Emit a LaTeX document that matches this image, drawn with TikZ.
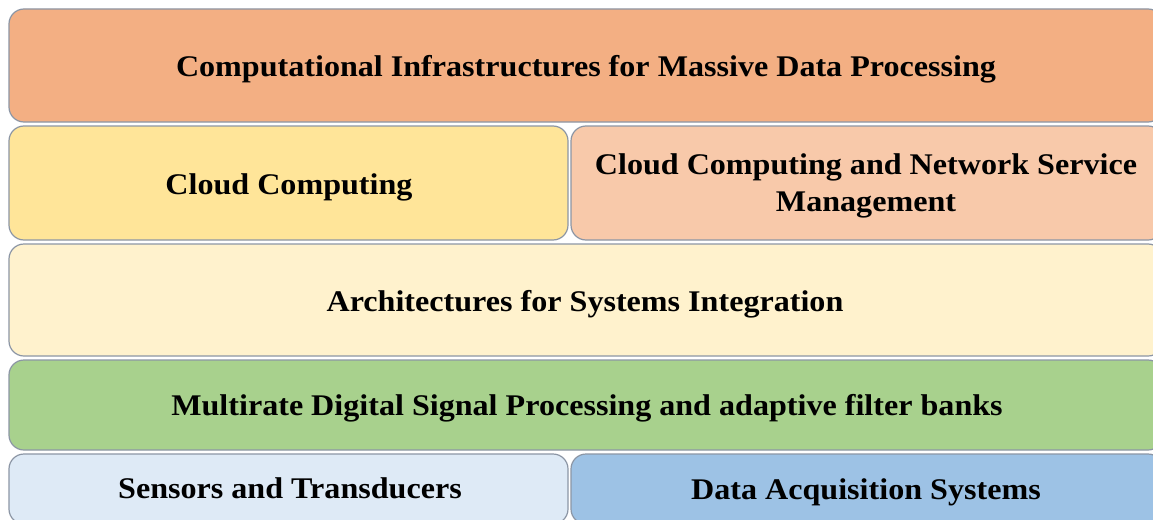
\documentclass[tikz,border=0pt]{standalone}
\usepackage{fontspec}
\setmainfont[FakeStretch=1.07]{Liberation Serif}
\definecolor{cTop}{HTML}{F3AF83}
\definecolor{cYel}{HTML}{FFE599}
\definecolor{cPeach}{HTML}{F8C9AA}
\definecolor{cCream}{HTML}{FFF2CD}
\definecolor{cGreen}{HTML}{A8D18D}
\definecolor{cLblue}{HTML}{DEEAF6}
\definecolor{cBlue}{HTML}{9DC2E5}
\definecolor{cEdge}{RGB}{140,150,165}
\tikzset{
  layer/.style={draw=cEdge, line width=1.2pt, rounded corners=15pt, inner sep=0pt},
  label/.style={inner sep=0pt, align=center, text=black,
    font=\fontsize{30}{37}\selectfont\bfseries},
}
\begin{document}
\begin{tikzpicture}[x=1pt,y=-1pt]
\useasboundingbox (0,0) rectangle (1153,519);
\clip (0,0) rectangle (1153,519);
\fill[white] (0,0) rectangle (1153,519);
\node[layer, fill=cTop, minimum width=1154pt, minimum height=113pt] (top) at (586,65.5) {};
\node[label] (toptext) at (586,69) {Computational Infrastructures for Massive Data Processing};
\node[layer, fill=cYel, minimum width=559pt, minimum height=114pt] (cloud) at (288.5,183) {};
\node[label] (cloudtext) at (289,187) {Cloud Computing};
\node[layer, fill=cPeach, minimum width=592pt, minimum height=114pt] (net) at (867,183) {};
\node[label] (nettext) at (866,186) {Cloud Computing and Network Service\\Management};
\node[layer, fill=cCream, minimum width=1154pt, minimum height=112pt] (arch) at (586,300) {};
\node[label] (archtext) at (585,304) {Architectures for Systems Integration};
\node[layer, fill=cGreen, minimum width=1154pt, minimum height=90pt] (dsp) at (586,405) {};
\node[label] (dsptext) at (587,408) {Multirate Digital Signal Processing and adaptive filter banks};
\node[layer, fill=cLblue, minimum width=559pt, minimum height=70pt] (sens) at (288.5,489) {};
\node[label] (senstext) at (290,488) {Sensors and Transducers};
\node[layer, fill=cBlue, minimum width=592pt, minimum height=70pt] (daq) at (867,489) {};
\node[label] (daqtext) at (866,492) {Data Acquisition Systems};
\end{tikzpicture}
\end{document}
